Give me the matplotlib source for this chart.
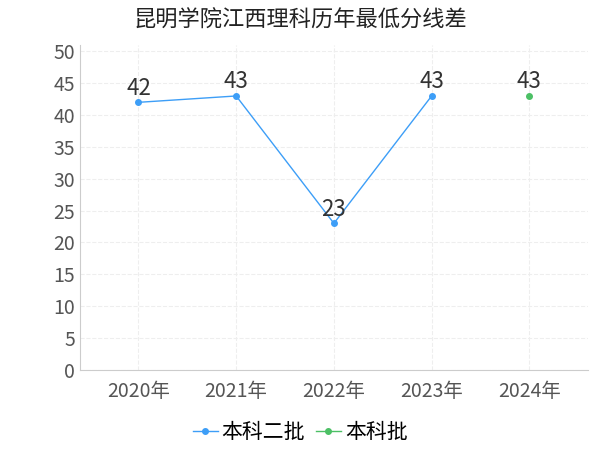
import matplotlib
matplotlib.use("Agg")
import matplotlib.pyplot as plt

plt.rcParams['font.family'] = ['Noto Sans CJK SC', 'DejaVu Sans']

years = ['2020年', '2021年', '2022年', '2023年', '2024年']
blue_x = [0, 1, 2, 3]
blue_vals = [42, 43, 23, 43]
green_x = [4]
green_vals = [43]

fig = plt.figure(figsize=(6, 4.5), dpi=100)
ax = fig.add_axes([0.133, 0.178, 0.847, 0.722])

ax.plot(blue_x, blue_vals, color='#3d9ef7', lw=1, marker='o', ms=4, label='本科二批')
ax.plot(green_x, green_vals, color='#4cc065', lw=1, marker='o', ms=4, label='本科批')
for x, v in zip(blue_x + green_x, blue_vals + green_vals):
    ax.text(x, v + 0.4, str(v), ha='center', va='bottom', fontsize=16, color='#333333')

ax.set_xlim(-0.6, 4.6)
ax.set_ylim(0, 51)
ax.set_yticks(range(0, 51, 5))
ax.set_xticks(range(5))
ax.set_xticklabels(years)
ax.tick_params(axis='both', labelsize=14, colors='#555555', length=0)
ax.tick_params(axis='x', pad=8)
ax.grid(True, color='#eeeeee', lw=0.8, ls='--')
for s in ['top', 'right']:
    ax.spines[s].set_visible(False)
ax.spines['left'].set_color('#cccccc')
ax.spines['bottom'].set_color('#cccccc')

fig.text(0.5, 0.955, '昆明学院江西理科历年最低分线差', ha='center', va='center', fontsize=16, color='#222222')
fig.legend(loc='center', bbox_to_anchor=(0.5, 0.04), ncol=2, frameon=False, fontsize=15,
           handlelength=1.2, handletextpad=0.2, columnspacing=0.5)

fig.savefig('out.png')
